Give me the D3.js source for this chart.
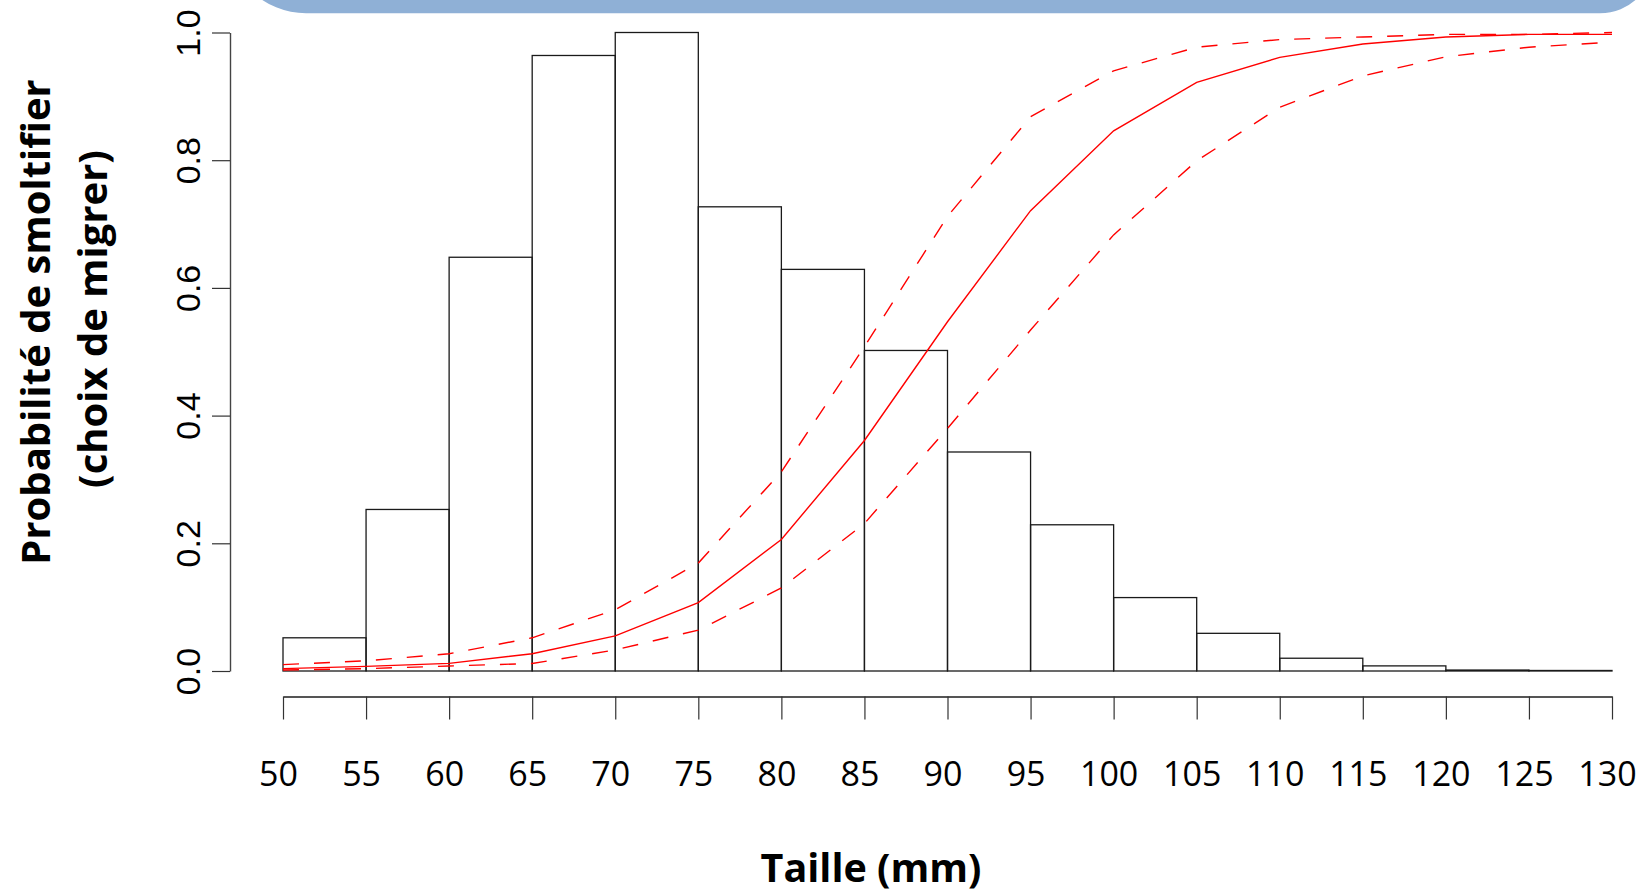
<!DOCTYPE html>
<html>
<head>
<meta charset="utf-8">
<script src="https://cdn.jsdelivr.net/npm/d3@7"></script>
<style>
  html, body { margin: 0; padding: 0; background: #ffffff; }
  svg { display: block; }
</style>
</head>
<body>
<svg id="chart" width="1649" height="894"></svg>
<script>
// ---- data ----
const binStarts = [50, 55, 60, 65, 70, 75, 80, 85, 90, 95, 100, 105, 110, 115, 120, 125];
const binWidth = 5;
const binHeights = [0.052, 0.253, 0.648, 0.964, 1.0, 0.727, 0.629, 0.502, 0.343, 0.229, 0.115, 0.059, 0.020, 0.008, 0.0015, 0.0008];

const sizes = [50, 55, 60, 65, 70, 75, 80, 85, 90, 95, 100, 105, 110, 115, 120, 125, 130];
const fitProb = [0.0037, 0.0073, 0.012, 0.027, 0.055, 0.107, 0.206, 0.361, 0.547, 0.721, 0.846, 0.922, 0.961, 0.982, 0.993, 0.997, 0.997];
const upperCI = [0.010, 0.016, 0.027, 0.052, 0.096, 0.169, 0.312, 0.508, 0.712, 0.868, 0.940, 0.977, 0.989, 0.993, 0.997, 0.997, 1.0];
const lowerCI = [0.0015, 0.0037, 0.0078, 0.0118, 0.033, 0.064, 0.130, 0.231, 0.380, 0.534, 0.683, 0.799, 0.883, 0.932, 0.962, 0.977, 0.985];

const xTicks = [50, 55, 60, 65, 70, 75, 80, 85, 90, 95, 100, 105, 110, 115, 120, 125, 130];
const yTicks = [0, 0.2, 0.4, 0.6, 0.8, 1.0];

const xTitle = "Taille (mm)";
const yTitleLines = ["Probabilité de smoltifier", "(choix de migrer)"];

// ---- layout ----
const svg = d3.select("#chart");
const x = d3.scaleLinear().domain([50, 130]).range([283, 1612]);
const y = d3.scaleLinear().domain([0, 1]).range([671, 32.5]);

// banner at top (decorative shape)
const bL = 228, bR = 1654, bB = 13.3, rL = 78, rR = 54;
svg.append("path")
  .attr("d", `M${bL},-200 L${bL},${bB - rL} A${rL},${rL} 0 0 0 ${bL + rL},${bB} L${bR - rR},${bB} A${rR},${rR} 0 0 0 ${bR},${bB - rR} L${bR},-200 Z`)
  .attr("fill", "#8FB0D6");

// histogram bars
svg.append("g")
  .selectAll("rect")
  .data(binStarts.map((s, i) => ({ s, v: binHeights[i] })))
  .join("rect")
  .attr("x", d => x(d.s))
  .attr("width", d => x(d.s + binWidth) - x(d.s))
  .attr("y", d => y(d.v))
  .attr("height", d => y(0) - y(d.v))
  .attr("fill", "none")
  .attr("stroke", "#1a1a1a")
  .attr("stroke-width", 1.3);

// red curves
const line = d3.line().x(d => x(d[0])).y(d => y(d[1]));
const mk = arr => sizes.map((s, i) => [s, arr[i]]);
svg.append("path").attr("d", line(mk(upperCI)))
  .attr("fill", "none").attr("stroke", "#ff0000").attr("stroke-width", 1.4)
  .attr("stroke-dasharray", "16,15");
svg.append("path").attr("d", line(mk(lowerCI)))
  .attr("fill", "none").attr("stroke", "#ff0000").attr("stroke-width", 1.4)
  .attr("stroke-dasharray", "16,15");
svg.append("path").attr("d", line(mk(fitProb)))
  .attr("fill", "none").attr("stroke", "#ff0000").attr("stroke-width", 1.4);

// y axis
const yAxis = svg.append("g")
  .attr("transform", "translate(230,0)")
  .call(d3.axisLeft(y).tickValues(yTicks).tickFormat(d3.format(".1f")).tickSize(18).tickSizeOuter(0));
yAxis.select(".domain").attr("stroke", "#444").attr("stroke-width", 1.4);
yAxis.selectAll(".tick line").attr("stroke", "#333").attr("stroke-width", 1.2);
yAxis.selectAll(".tick text")
  .attr("x", null).attr("dy", null)
  .attr("transform", "translate(-30,0) rotate(-90)")
  .attr("text-anchor", "middle")
  .attr("fill", "#000")
  .style("font-family", "'Liberation Sans', Arial, sans-serif")
  .style("font-size", "34px");

// x axis
const xAxis = svg.append("g")
  .attr("transform", "translate(0,696.5)")
  .call(d3.axisBottom(x).tickValues(xTicks).tickFormat(d3.format("d")).tickSize(23).tickSizeOuter(0));
xAxis.select(".domain").attr("stroke", "#555").attr("stroke-width", 2);
xAxis.selectAll(".tick line").attr("stroke", "#333").attr("stroke-width", 1.2);
xAxis.selectAll(".tick text")
  .attr("y", 89).attr("dy", null).attr("x", -5)
  .attr("text-anchor", "middle")
  .attr("fill", "#000")
  .style("font-family", "'Open Sans', sans-serif")
  .style("font-size", "34px");

// axis titles
svg.append("text")
  .attr("x", 871).attr("y", 882)
  .attr("text-anchor", "middle")
  .style("font-family", "'Open Sans', sans-serif")
  .style("font-weight", "bold")
  .style("font-size", "39.5px")
  .text(xTitle);

const yTitle = svg.append("g");
yTitleLines.forEach((t, i) => {
  yTitle.append("text")
    .attr("transform", `translate(${i === 0 ? 50 : 107},${i === 0 ? 322 : 319}) rotate(-90)`)
    .attr("text-anchor", "middle")
    .style("font-family", "'Open Sans', sans-serif")
    .style("font-weight", "bold")
    .style("font-size", "40px")
    .text(t);
});
</script>
</body>
</html>
